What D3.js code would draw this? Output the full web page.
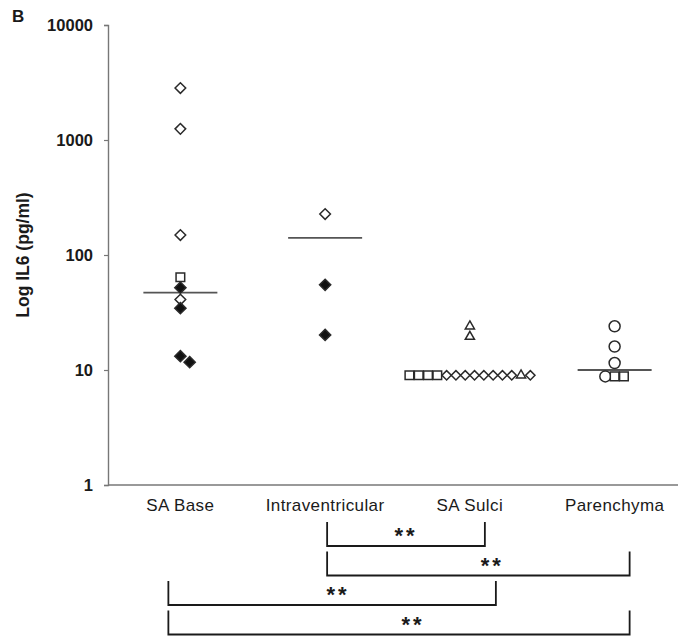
<!DOCTYPE html>
<html><head><meta charset="utf-8">
<script src="https://cdn.jsdelivr.net/npm/d3@7"></script>
<style>body{margin:0;background:#fff}svg{display:block}</style>
</head><body>
<svg id="c" width="678" height="640"></svg>
<script>
// ---- data ----
const categories = ["SA Base", "Intraventricular", "SA Sulci", "Parenchyma"];
const saBaseValues = [2830, 1250, 149, 64, 52, 41, 34.5, 13.2, 11.7];
const saBaseShapes = ["dOpen","dOpen","dOpen","square","dFilled","dOpen","dFilled","dFilled","dFilled"];
const intraValues = [227, 55, 20.2];
const intraShapes = ["dOpen","dFilled","dFilled"];
const sulciValues = [24, 19.5, 9, 9, 9, 9, 9, 9, 9, 9, 9, 9, 9, 9, 9, 9];
const sulciShapes = ["triangle","triangle","square","square","square","square","dRow","dRow","dRow","dRow","dRow","dRow","dRow","dRow","triangle","dRow"];
const parenValues = [24, 16, 11.5, 8.8, 8.8, 8.8];
const parenShapes = ["circle","circle","circle","circle","square","square"];
const medians = [47, 141, 9, 10];
const yTicks = [1, 10, 100, 1000, 10000];
const brackets = [
  {from: "Intraventricular", to: "SA Sulci", label: "**"},
  {from: "Intraventricular", to: "Parenchyma", label: "**"},
  {from: "SA Base", to: "SA Sulci", label: "**"},
  {from: "SA Base", to: "Parenchyma", label: "**"}
];
const yTitle = "Log IL6 (pg/ml)";
const panelLetter = "B";

const groups = [
  {cat: categories[0], values: saBaseValues, shapes: saBaseShapes},
  {cat: categories[1], values: intraValues, shapes: intraShapes},
  {cat: categories[2], values: sulciValues, shapes: sulciShapes},
  {cat: categories[3], values: parenValues, shapes: parenShapes}
];

// ---- layout ----
const svg = d3.select("#c");
const axisX = 108, axisTop = 25, axisBottom = 485;
const y = d3.scaleLog().domain([1, 10000]).range([axisBottom, axisTop]);
const x = d3.scalePoint().domain(categories).range([axisX, 687]).padding(0.5);
const ink = "#1a1a1a";
const font = "Arial, 'Liberation Sans', Helvetica, sans-serif";

// axes
const yAxis = d3.axisLeft(y).tickValues(yTicks).tickFormat(d3.format("d")).tickSize(4).tickPadding(11);
const gy = svg.append("g").attr("transform", `translate(${axisX},0)`).call(yAxis);
gy.select(".domain").attr("stroke", "#777").attr("stroke-width", 1.4);
gy.selectAll(".tick line").attr("stroke", "#777").attr("stroke-width", 1.2);
gy.selectAll(".tick text").attr("font-family", font).attr("font-size", 16.5).attr("font-weight", "bold").attr("fill", ink);

svg.append("line").attr("x1", axisX).attr("x2", 678).attr("y1", axisBottom).attr("y2", axisBottom)
  .attr("stroke", "#777").attr("stroke-width", 1.6);

svg.selectAll("text.cat").data(categories).join("text").attr("class", "cat")
  .attr("x", d => x(d)).attr("y", 511).attr("text-anchor", "middle")
  .attr("font-family", font).attr("font-size", 17).attr("letter-spacing", 0.4).attr("fill", ink)
  .text(d => d);

svg.append("text").attr("transform", "translate(29,255) rotate(-90)").attr("text-anchor", "middle")
  .attr("font-family", font).attr("font-size", 17.5).attr("font-weight", "bold").attr("fill", ink).text(yTitle);

svg.append("text").attr("x", 12).attr("y", 22).attr("font-family", font).attr("font-size", 17)
  .attr("font-weight", "bold").attr("fill", ink).text(panelLetter);

// medians
svg.selectAll("line.med").data(medians).join("line").attr("class", "med")
  .attr("x1", (d, i) => x(categories[i]) - 37).attr("x2", (d, i) => x(categories[i]) + 37)
  .attr("y1", d => y(d)).attr("y2", d => y(d)).attr("stroke", "#555").attr("stroke-width", 1.8);

// points with dodge
const step = 9.3;
const pts = [];
groups.forEach(g => {
  const placed = [];
  g.values.forEach((v, i) => {
    const py = y(v);
    let k = 0;
    while (placed.some(q => q.k === k && Math.abs(q.y - py) < 7)) k++;
    const p = {cat: g.cat, v, shape: g.shapes[i], y: py, k};
    placed.push(p); pts.push(p);
  });
  const byVal = d3.group(placed, p => p.v);
  byVal.forEach(arr => {
    const n = arr.length;
    arr.forEach(p => { p.x = x(g.cat) + (n > 1 ? (p.k - (n - 1) / 2) : p.k) * step; });
  });
});

const sym = {
  dOpen: d3.symbol().type(d3.symbolDiamond2).size(72)(),
  dRow: d3.symbol().type(d3.symbolDiamond2).size(55)(),
  dFilled: d3.symbol().type(d3.symbolDiamond2).size(80)(),
  square: d3.symbol().type(d3.symbolSquare2).size(95)(),
  triangle: d3.symbol().type(d3.symbolTriangle2).size(60)(),
  circle: d3.symbol().type(d3.symbolCircle).size(95)()
};
svg.selectAll("path.pt").data(pts).join("path").attr("class", "pt")
  .attr("transform", d => `translate(${d.x},${d.y})`)
  .attr("d", d => sym[d.shape])
  .attr("fill", d => d.shape === "dFilled" ? "#111" : "#fff")
  .attr("stroke", "#2a2a2a").attr("stroke-width", 1.5);

// brackets
const endNudge = {left: [2, 2, -12, -12], right: [15, 15, 26, 15]};
const starNudge = [0, 14, 6, 14];
brackets.forEach((b, i) => {
  const top = 522 + i * 29.5, bottom = top + 24;
  const x1 = x(b.from) + endNudge.left[i], x2 = x(b.to) + endNudge.right[i];
  svg.append("path").attr("d", `M${x1},${top}V${bottom}H${x2}V${top}`)
    .attr("fill", "none").attr("stroke", ink).attr("stroke-width", 1.8);
  svg.append("text").attr("x", (x1 + x2) / 2 + starNudge[i]).attr("y", bottom - 3)
    .attr("text-anchor", "middle").attr("font-family", font).attr("font-size", 22)
    .attr("font-weight", "bold").attr("letter-spacing", 3).attr("fill", ink).text(b.label);
});
</script>
</body></html>
